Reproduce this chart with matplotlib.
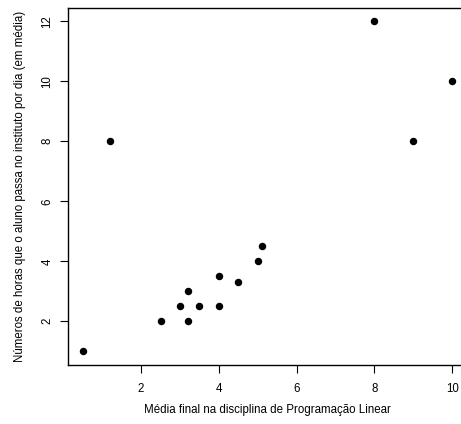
import matplotlib
matplotlib.use("Agg")
import matplotlib.pyplot as plt

plt.rcParams['font.family'] = ['Liberation Sans', 'DejaVu Sans']

# media final (x) vs horas no instituto (y)
media = [0.5, 1.2, 2.5, 3.0, 3.2, 3.2, 3.5, 4.0, 4.0, 4.5, 5.0, 5.1, 8.0, 9.0, 10.0]
horas = [1.0, 8.0, 2.0, 2.5, 3.0, 2.0, 2.5, 3.5, 2.5, 3.3, 4.0, 4.5, 12.0, 8.0, 10.0]
xticks = [2, 4, 6, 8, 10]
yticks = [2, 4, 6, 8, 10, 12]

W, H = 461, 424
L, R, T, B = 68, 467, 8.1, 364.5   # plot region in pixels (runs past right edge)

fig = plt.figure(figsize=(W / 100, H / 100), dpi=100)
ax = fig.add_axes([L / W, (H - B) / H, (R - L) / W, (B - T) / H])

ax.scatter(media, horas, s=19, color='black', zorder=3)

# R-like ranges (4% padding)
dx = (max(media) - min(media)) * 0.04
dy = (max(horas) - min(horas)) * 0.04
ax.set_xlim(min(media) - dx, max(media) + dx)
ax.set_ylim(min(horas) - dy, max(horas) + dy)

ax.set_xticks(xticks)
ax.set_yticks(yticks)
ax.tick_params(direction='out', length=6, width=0.8, labelsize=8.3)
ax.tick_params(axis='x', pad=7)
ax.tick_params(axis='y', pad=4.5)
plt.setp(ax.get_yticklabels(), rotation=90, va='center')

for s in ax.spines.values():
    s.set_linewidth(1.0)
ax.spines['right'].set_visible(False)

ax.set_xlabel('Média final na disciplina de Programação Linear', fontsize=8.3, va='center')
ax.set_ylabel('Números de horas que o aluno passa no instituto por dia (em média)', fontsize=8.3, va='center')
ax.xaxis.set_label_coords(0.5, -(410 - B) / (B - T))
ax.yaxis.set_label_coords((20 - L) / (R - L), 0.5)

fig.savefig('out.png', dpi=100)
